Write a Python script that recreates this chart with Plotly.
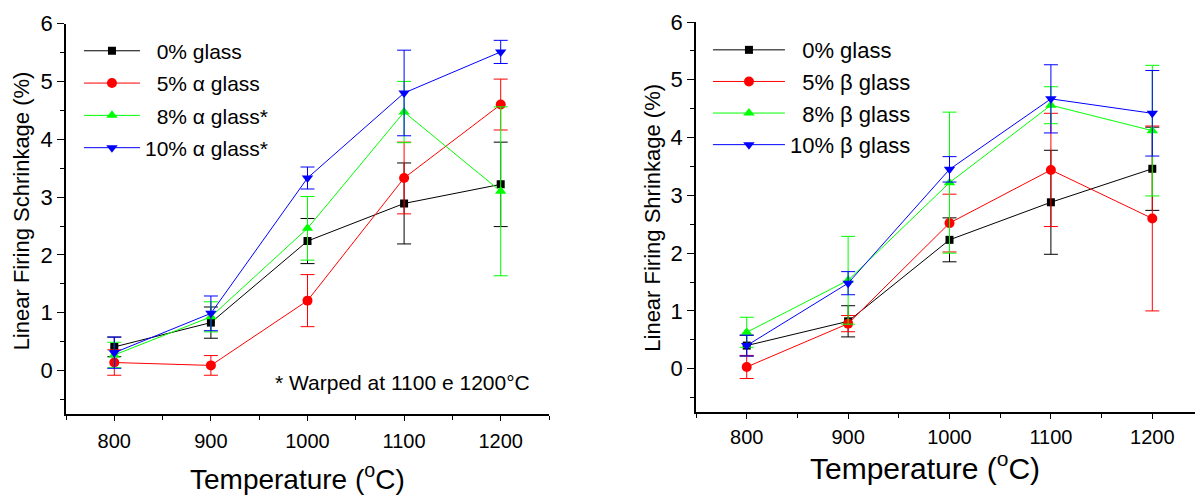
import plotly.graph_objects as go

temps = [800, 900, 1000, 1100, 1200]

# Left panel (alpha glass)
a_names = ["\u20070% glass", "\u20075% \u03b1 glass", "\u20078% \u03b1 glass*", "10% \u03b1 glass*"]
a0 = [0.41, 0.83, 2.24, 2.89, 3.22]
a0_err = [0.17, 0.27, 0.39, 0.70, 0.73]
a5 = [0.14, 0.09, 1.21, 3.33, 4.60]
a5_err = [0.22, 0.17, 0.45, 0.62, 0.44]
a8 = [0.27, 0.93, 2.46, 4.47, 3.10]
a8_err = [0.22, 0.26, 0.55, 0.53, 1.46]
a10 = [0.31, 0.99, 3.33, 4.80, 5.51]
a10_err = [0.27, 0.30, 0.19, 0.74, 0.20]

# Right panel (beta glass)
b_names = ["\u20070% glass", "\u20075% \u03b2 glass", "\u20078% \u03b2 glass", "10% \u03b2 glass"]
b0 = [0.40, 0.82, 2.23, 2.88, 3.46]
b0_err = [0.18, 0.27, 0.38, 0.90, 0.72]
b5 = [0.03, 0.78, 2.52, 3.44, 2.60]
b5_err = [0.20, 0.14, 0.50, 0.98, 1.60]
b8 = [0.63, 1.53, 3.22, 4.56, 4.12]
b8_err = [0.26, 0.76, 1.22, 0.32, 1.13]
b10 = [0.40, 1.48, 3.45, 4.67, 4.42]
b10_err = [0.18, 0.20, 0.22, 0.59, 0.74]

colors = ["#000000", "#ff0000", "#00ff00", "#0000ff"]
symbols = ["square", "circle", "triangle-up", "triangle-down"]
sizes = [8, 10, 10, 10]

x_title = "Temperature (<sup>o</sup>C)"
y_title_left = "Linear Firing Schrinkage (%)"
y_title_right = "Linear Firing Shrinkage (%)"

FONT = "Liberation Sans, Arial, sans-serif"

fig = go.Figure()

left_series = [(a0, a0_err), (a5, a5_err), (a8, a8_err), (a10, a10_err)]
right_series = [(b0, b0_err), (b5, b5_err), (b8, b8_err), (b10, b10_err)]

for i, (vals, errs) in enumerate(left_series):
    fig.add_trace(go.Scatter(
        x=temps, y=vals, name=a_names[i], mode="lines+markers",
        xaxis="x", yaxis="y", legend="legend", legendgroup="a%d" % i,
        line=dict(color=colors[i], width=1),
        marker=dict(symbol=symbols[i], size=sizes[i], color=colors[i]),
        error_y=dict(type="data", array=errs, visible=True, color=colors[i], thickness=1, width=7),
    ))

for i, (vals, errs) in enumerate(right_series):
    fig.add_trace(go.Scatter(
        x=temps, y=vals, name=b_names[i], mode="lines+markers",
        xaxis="x2", yaxis="y2", legend="legend2", legendgroup="b%d" % i,
        line=dict(color=colors[i], width=1),
        marker=dict(symbol=symbols[i], size=sizes[i], color=colors[i]),
        error_y=dict(type="data", array=errs, visible=True, color=colors[i], thickness=1, width=7),
    ))

xaxis_common = dict(
    range=[750, 1250], tick0=800, dtick=100, ticks="outside", ticklen=5, tickwidth=1,
    showline=True, linecolor="black", linewidth=1.5, showgrid=False, zeroline=False,
    tickfont=dict(family=FONT, size=20, color="black"),
    minor=dict(dtick=50, ticks="outside", ticklen=4, tickwidth=1, tickcolor="black", showgrid=False),
    tickcolor="black",
)
yaxis_common = dict(
    range=[-0.75, 6], tick0=0, dtick=1, ticks="outside", ticklen=7, tickwidth=1,
    showline=True, linecolor="black", linewidth=1.5, showgrid=False, zeroline=False,
    tickfont=dict(family=FONT, size=22, color="black"),
    minor=dict(dtick=0.5, ticks="outside", ticklen=4, tickwidth=1, tickcolor="black", showgrid=False),
    tickcolor="black",
)

legend_common = dict(
    bgcolor="rgba(0,0,0,0)", borderwidth=0, xanchor="left", yanchor="top",
    traceorder="grouped",
)

fig.update_layout(
    width=1195, height=489,
    margin=dict(l=58, r=0, t=14, b=83),
    paper_bgcolor="white", plot_bgcolor="white",
    font=dict(family=FONT, color="black"),
    xaxis=dict(xaxis_common, domain=[0, 0.4248], anchor="y", ticklabelstandoff=3),
    yaxis=dict(yaxis_common, domain=[0, 0.996], anchor="x"),
    xaxis2=dict(xaxis_common, domain=[0.5541, 1], anchor="y2", ticklabelstandoff=1),
    yaxis2=dict(yaxis_common, domain=[0.005, 1], anchor="x2"),
    legend=dict(legend_common, x=0.0114, y=0.978, tracegroupgap=2, itemwidth=56,
                font=dict(family=FONT, size=21, color="black")),
    legend2=dict(legend_common, x=0.5646, y=0.982, tracegroupgap=0, itemwidth=72,
                 font=dict(family=FONT, size=22, color="black")),
    showlegend=True,
    annotations=[
        dict(text="* Warped at 1100 e 1200\u00b0C", x=1098, y=-0.2, xref="x", yref="y",
             showarrow=False, font=dict(family=FONT, size=21, color="black")),
        dict(text=x_title, x=0.2036, y=-0.16, xref="paper", yref="paper",
             xanchor="center", yanchor="middle", showarrow=False,
             font=dict(family=FONT, size=28, color="black")),
        dict(text=x_title, x=0.7555, y=-0.132, xref="paper", yref="paper",
             xanchor="center", yanchor="middle", showarrow=False,
             font=dict(family=FONT, size=30, color="black")),
        dict(text=y_title_left, x=-0.039, y=0.5186, xref="paper", yref="paper",
             xanchor="center", yanchor="middle", textangle=-90, showarrow=False,
             font=dict(family=FONT, size=22, color="black")),
        dict(text=y_title_right, x=0.5163, y=0.5008, xref="paper", yref="paper",
             xanchor="center", yanchor="middle", textangle=-90, showarrow=False,
             font=dict(family=FONT, size=22, color="black")),
    ],
)

fig.write_html("out.html")
